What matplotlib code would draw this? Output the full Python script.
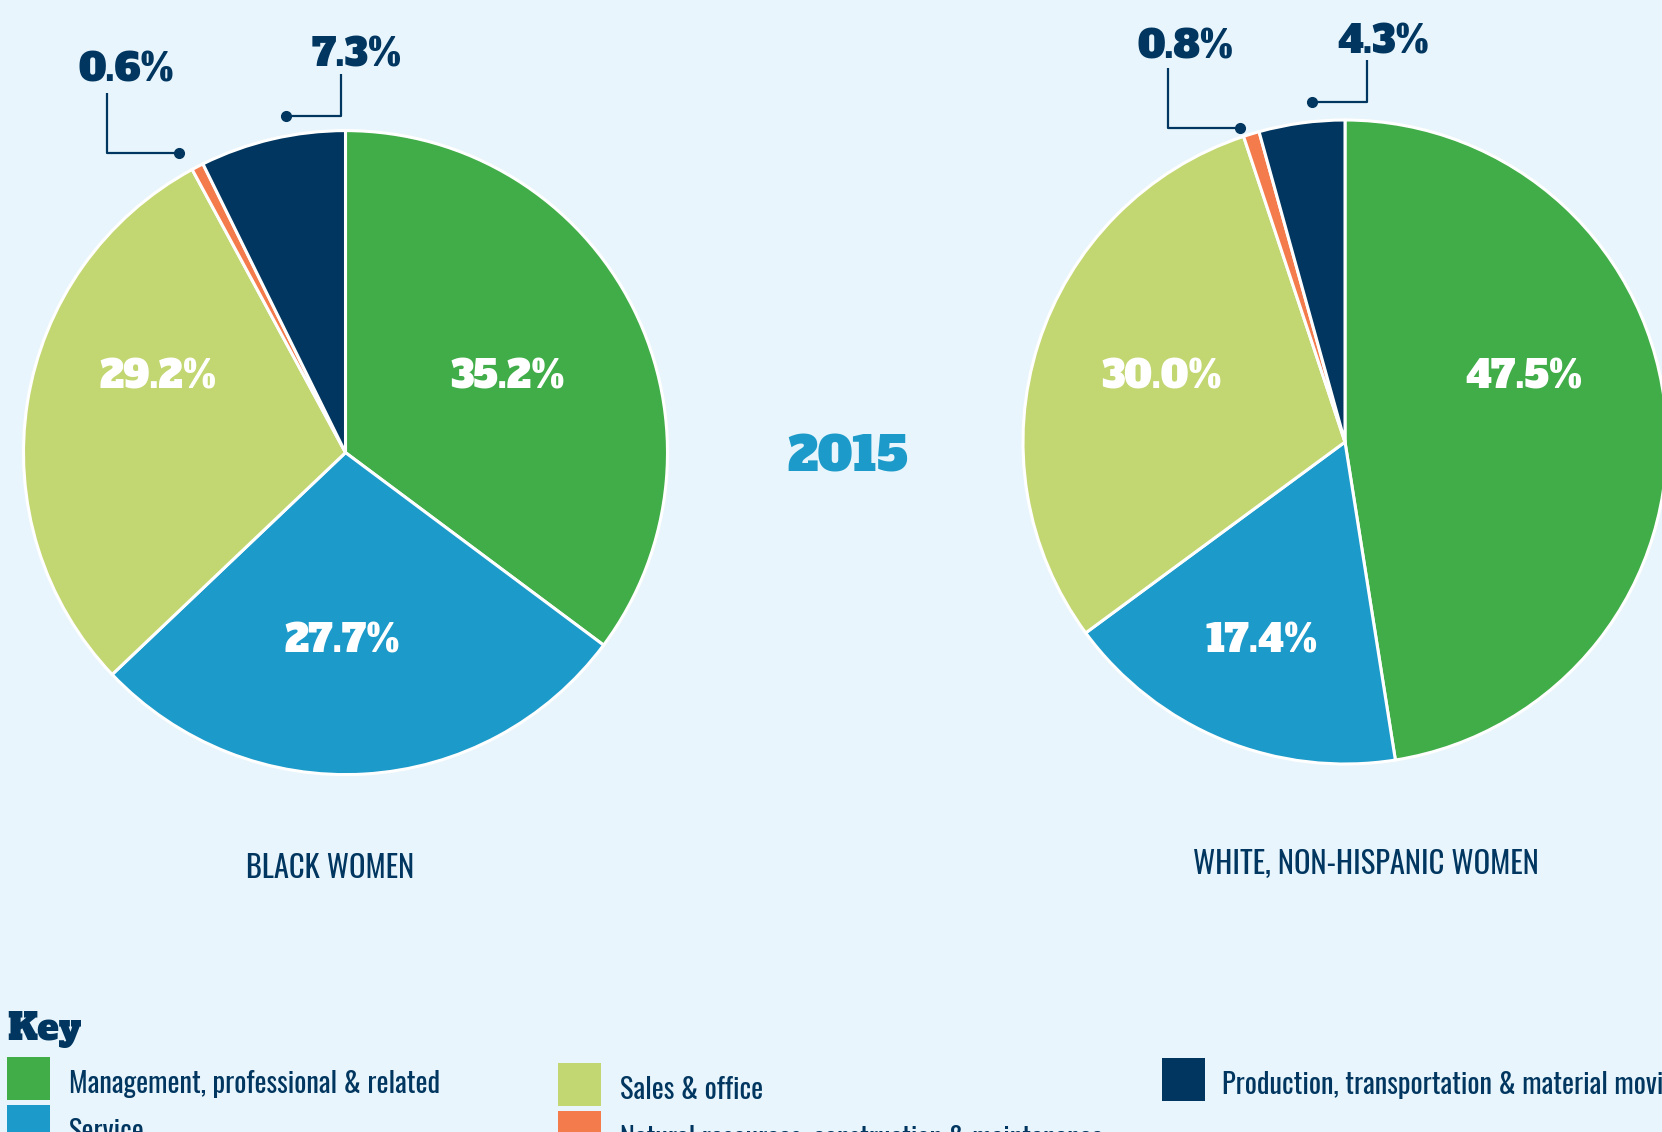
import matplotlib
matplotlib.use('Agg')
import matplotlib.pyplot as plt
from matplotlib.patches import Rectangle

# Daten
kategorien = ['Management, professional & related', 'Service', 'Sales & office',
              'Natural resources, construction & maintenance',
              'Production, transportation & material moving']
black_women = [35.2, 27.7, 29.2, 0.6, 7.3]
white_women = [47.5, 17.4, 30.0, 0.8, 4.3]
farben = ['#41ad49', '#1c9ac9', '#c2d672', '#f47b4c', '#00365f']
gruppen = ['BLACK WOMEN', 'WHITE, NON-HISPANIC WOMEN']
jahr = '2015'

W, H = 1662, 1132
BG = '#e8f5fc'
NAVY = '#00365f'

SCHMAL = ['Oswald', 'Barlow Condensed', 'DejaVu Sans']
SLAB = ['Alfa Slab One', 'DejaVu Serif']


def py(y):
    # Pixelkoordinate von oben -> Datenkoordinate
    return H - y


fig = plt.figure(figsize=(W / 100, H / 100), dpi=100, facecolor=BG)
ax = fig.add_axes([0, 0, 1, 1])
ax.set_facecolor(BG)

# Pie-Layout: Mittelpunkt, Radius, Innenlabel-Positionen, Callouts
pies = [
    dict(werte=black_women, center=(345.5, 452.6), radius=322,
         innen=[(508, 378), (342, 642), (158, 378)],
         callout=[  # (text xy, linie punkte)
             ((126, 71), [(107, 93), (107, 153), (179, 153)]),
             ((357, 56), [(341, 74), (341, 116), (286, 116)]),
         ],
         titel=(330, 869)),
    dict(werte=white_women, center=(1345, 442), radius=322,
         innen=[(1524, 378), (1262, 642), (1162, 378)],
         callout=[
             ((1186, 48), [(1168, 68), (1168, 128), (1240, 128)]),
             ((1383, 43), [(1367, 60), (1367, 102), (1312, 102)]),
         ],
         titel=(1366, 864)),
]

for p, gruppe in zip(pies, gruppen):
    cx, cy = p['center']
    ax.pie(p['werte'], colors=farben, startangle=90, counterclock=False,
           center=(cx, py(cy)), radius=p['radius'],
           wedgeprops=dict(edgecolor='white', linewidth=2.2))
    # grosse Segmente: Label innen
    for (tx, ty), v in zip(p['innen'], p['werte'][:3]):
        ax.text(tx, py(ty), f'{v:.1f}%', color='white', fontsize=27,
                family=SLAB, ha='center', va='center')
    # kleine Segmente: Label mit Fuehrungslinie
    for ((tx, ty), pts), v in zip(p['callout'], p['werte'][3:]):
        ax.text(tx, py(ty), f'{v:.1f}%', color=NAVY, fontsize=27,
                family=SLAB, ha='center', va='center')
        xs = [q[0] for q in pts]
        ys = [py(q[1]) for q in pts]
        ax.plot(xs, ys, color=NAVY, linewidth=1.6, solid_capstyle='butt')
        ax.plot(xs[-1], ys[-1], 'o', color=NAVY, markersize=7)
    ax.text(p['titel'][0], py(p['titel'][1]), gruppe, color=NAVY, fontsize=22,
            family=SCHMAL, weight='bold', ha='center', va='center')

ax.text(848, py(458), jahr, color='#1c9ac9', fontsize=34, family=SLAB,
        ha='center', va='center')

# Key / Legende
ax.text(7, py(1030), 'Key', color=NAVY, fontsize=26, family=SLAB,
        ha='left', va='center')

spalten = [(7, 69, 1057), (558, 620, 1063), (1162, 1222, 1058)]
for i, (kat, farbe) in enumerate(zip(kategorien, farben)):
    spalte = [0, 0, 1, 1, 2][i]
    zeile = [0, 1, 0, 1, 0][i]
    qx, tx, top = spalten[spalte]
    top = top + zeile * 48
    ax.add_patch(Rectangle((qx, py(top + 43)), 43, 43, facecolor=farbe,
                           edgecolor='none'))
    ax.text(tx, py(top + 27), kat, color=NAVY, fontsize=20.5, family=SCHMAL,
            weight='medium', ha='left', va='center')

ax.set_xlim(0, W)
ax.set_ylim(0, H)
ax.set_aspect('auto')
ax.axis('off')

fig.savefig('out.png', dpi=100, facecolor=BG)
plt.close(fig)
